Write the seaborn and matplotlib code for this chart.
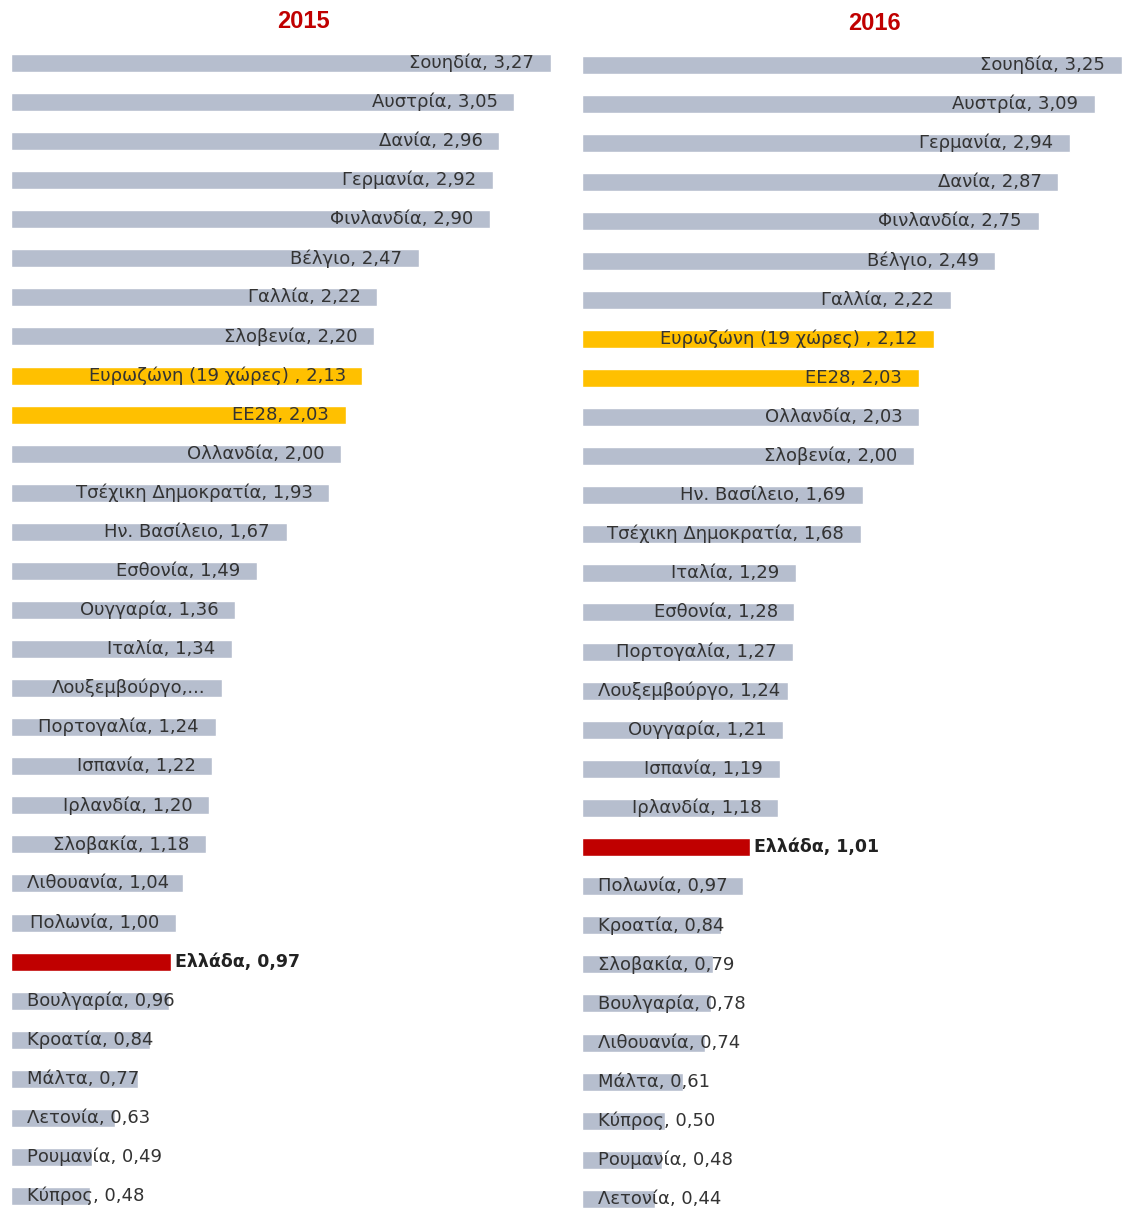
import numpy as np
import pandas as pd
import seaborn as sns
import matplotlib.pyplot as plt

# --- data ---
countries_2015 = ['Σουηδία', 'Αυστρία', 'Δανία', 'Γερμανία', 'Φινλανδία', 'Βέλγιο',
                  'Γαλλία', 'Σλοβενία', 'Ευρωζώνη (19 χώρες) ', 'ΕΕ28', 'Ολλανδία',
                  'Τσέχικη Δημοκρατία', 'Ην. Βασίλειο', 'Εσθονία', 'Ουγγαρία', 'Ιταλία',
                  'Λουξεμβούργο', 'Πορτογαλία', 'Ισπανία', 'Ιρλανδία', 'Σλοβακία',
                  'Λιθουανία', 'Πολωνία', 'Ελλάδα', 'Βουλγαρία', 'Κροατία', 'Μάλτα',
                  'Λετονία', 'Ρουμανία', 'Κύπρος']
values_2015 = [3.27, 3.05, 2.96, 2.92, 2.90, 2.47, 2.22, 2.20, 2.13, 2.03, 2.00,
               1.93, 1.67, 1.49, 1.36, 1.34, 1.28, 1.24, 1.22, 1.20, 1.18,
               1.04, 1.00, 0.97, 0.96, 0.84, 0.77, 0.63, 0.49, 0.48]

countries_2016 = ['Σουηδία', 'Αυστρία', 'Γερμανία', 'Δανία', 'Φινλανδία', 'Βέλγιο',
                  'Γαλλία', 'Ευρωζώνη (19 χώρες) ', 'ΕΕ28', 'Ολλανδία', 'Σλοβενία',
                  'Ην. Βασίλειο', 'Τσέχικη Δημοκρατία', 'Ιταλία', 'Εσθονία', 'Πορτογαλία',
                  'Λουξεμβούργο', 'Ουγγαρία', 'Ισπανία', 'Ιρλανδία', 'Ελλάδα', 'Πολωνία',
                  'Κροατία', 'Σλοβακία', 'Βουλγαρία', 'Λιθουανία', 'Μάλτα', 'Κύπρος',
                  'Ρουμανία', 'Λετονία']
values_2016 = [3.25, 3.09, 2.94, 2.87, 2.75, 2.49, 2.22, 2.12, 2.03, 2.03, 2.00,
               1.69, 1.68, 1.29, 1.28, 1.27, 1.24, 1.21, 1.19, 1.18, 1.01, 0.97,
               0.84, 0.79, 0.78, 0.74, 0.61, 0.50, 0.48, 0.44]

# labels Excel truncated in the original
truncated = {('2015', 'Λουξεμβούργο'): 'Λουξεμβούργο,...'}

GREY = '#B6BECE'
GOLD = '#FFC000'
RED = '#C00000'
TEXT = '#333333'

def bar_colour(name):
    if name == 'Ελλάδα':
        return RED
    if name.startswith('Ευρωζώνη') or name == 'ΕΕ28':
        return GOLD
    return GREY

def fmt(v):
    return f'{v:.2f}'.replace('.', ',')

sns.set_style('white')
plt.rcParams['font.family'] = ['DejaVu Sans']

W, H = 1123, 1209
fig = plt.figure(figsize=(W / 100, H / 100), dpi=100)

# panel geometry in pixels: left, first bar centre, last bar centre, xmax, px per unit, title pos
panels = [
    ('2015', countries_2015, values_2015, 11, 63, 1196, 3.30, 165.0, 303, 21),
    ('2016', countries_2016, values_2016, 582, 65, 1199, 3.25, 166.0, 874, 23),
]

all_texts = []
for year, names, vals, left_px, top_c, bot_c, xmax, ppu, tx, ty in panels:
    step = (bot_c - top_c) / (len(names) - 1)
    top_px = top_c - 0.5 * step
    ax = fig.add_axes([left_px / W, 0, xmax * ppu / W, (H - top_px) / H])
    df = pd.DataFrame({'country': names, 'value': vals})
    pal = {n: bar_colour(n) for n in names}
    sns.barplot(data=df, x='value', y='country', hue='country', palette=pal,
                order=names, legend=False, width=0.46, orient='h',
                saturation=1, ax=ax)
    ax.set_xlim(0, xmax)
    ax.set_ylim((H - top_px) / step - 0.5, -0.5)
    ax.axis('off')

    for i, (n, v) in enumerate(zip(names, vals)):
        label = truncated.get((year, n), f'{n}, {fmt(v)}')
        if n == 'Ελλάδα':
            ax.annotate(label, (v, i), xytext=(3, 0), textcoords='offset points',
                        ha='left', va='center', fontsize=12.5, fontweight='bold',
                        color='#222222', annotation_clip=False)
        else:
            t = ax.annotate(label, (v, i), xytext=(-12, 0), textcoords='offset points',
                            ha='right', va='center', fontsize=13, color=TEXT,
                            annotation_clip=False)
            all_texts.append((ax, t, i))

    fig.text(tx / W, 1 - ty / H, year, ha='center', va='center', fontsize=17,
             fontweight='bold', color=RED, family='Liberation Sans')

# labels that do not fit inside their bar start near the bar base instead
fig.canvas.draw()
r = fig.canvas.get_renderer()
for ax, t, i in all_texts:
    bb = t.get_window_extent(r)
    ax_left = ax.get_window_extent(r).x0
    if bb.x0 < ax_left + 16:
        t.set_position((16 * 0.72, 0))
        t.xy = (0, i)
        t.set_ha('left')

fig.savefig('out.png', dpi=100)
